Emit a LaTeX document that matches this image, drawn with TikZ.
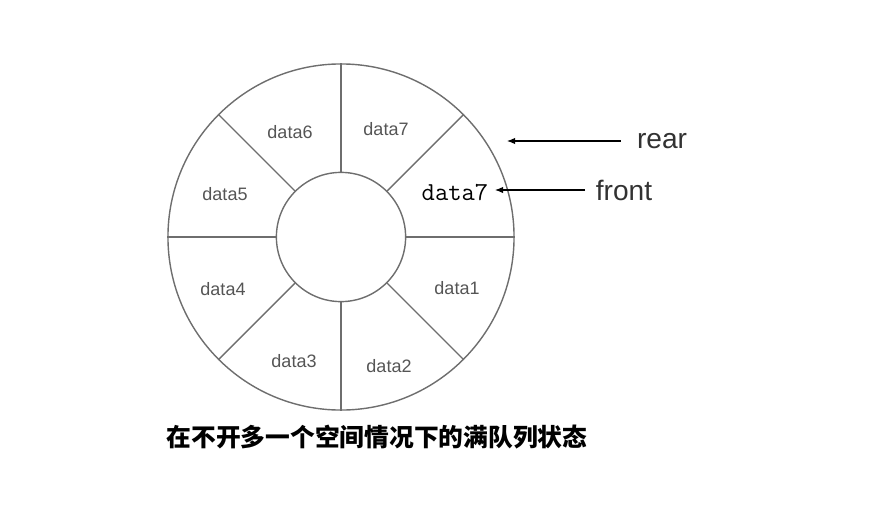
\documentclass[tikz,border=0pt]{standalone}
\usepackage{fontspec}
\usepackage{tikz}
\usetikzlibrary{arrows.meta,positioning}
\usepackage{xcolor}
\newfontfamily\labelfont{Liberation Sans}
\newfontfamily\cjkfont{Noto Sans CJK SC}
\definecolor{rimgray}{RGB}{110,110,110}
\definecolor{textgray}{RGB}{85,85,85}
\definecolor{pointer}{RGB}{50,50,50}
\tikzset{
    ring/.style={
        draw=rimgray,line width=1pt,circle,inner sep=0pt,minimum size=#1
    },
    slot/.style={
        font=\labelfont\fontsize{12.8}{15}\selectfont,text=textgray,inner sep=0pt
    },
    tag/.style={
        font=\labelfont\fontsize{20}{24}\selectfont,text=pointer,inner sep=0pt
    },
    arrow/.style={
        -{Latex[length=2mm,width=1.6mm]},line width=0.8pt,draw=black
    }
}
\begin{document}
\begin{tikzpicture}[x=0.025cm,y=-0.025cm]
\useasboundingbox (0,0) rectangle (878,505);

% the queue ring
\node[ring=8.65cm] (outer) at (341,237){};
\node[ring=3.23cm] (hub) at (341,237){};
\foreach \a in {0,45,...,315}
    \draw[draw=rimgray,line width=1pt] (hub.\a) -- (outer.\a);

% slot contents
\node[slot] (d1) at (457,288){data1};
\node[slot] (d2) at (389,366){data2};
\node[slot] (d3) at (294,361){data3};
\node[slot] (d4) at (223,289){data4};
\node[slot] (d5) at (225,194){data5};
\node[slot] (d6) at (290,132){data6};
\node[slot] (d7) at (386,129){data7};
\node[font=\ttfamily\fontsize{18.4}{22}\selectfont,inner sep=0pt]
(d8) at (455,193){data7};

% pointers
\node[tag] (rear) at (662,141){rear};
\node[tag] (front) at (624,190){front};
\coordinate (rearend) at (507,141);
\coordinate (frontend) at (495,190);
\draw[arrow] ([xshift=-4mm]rear.west) -- (rearend);
\draw[arrow] ([xshift=-2.6mm]front.west) -- (frontend);

\node[font=\cjkfont\bfseries\fontsize{17.6}{21}\selectfont,inner sep=0pt]
(cap) at (377,437){在不开多一个空间情况下的满队列状态};

\end{tikzpicture}
\end{document}
